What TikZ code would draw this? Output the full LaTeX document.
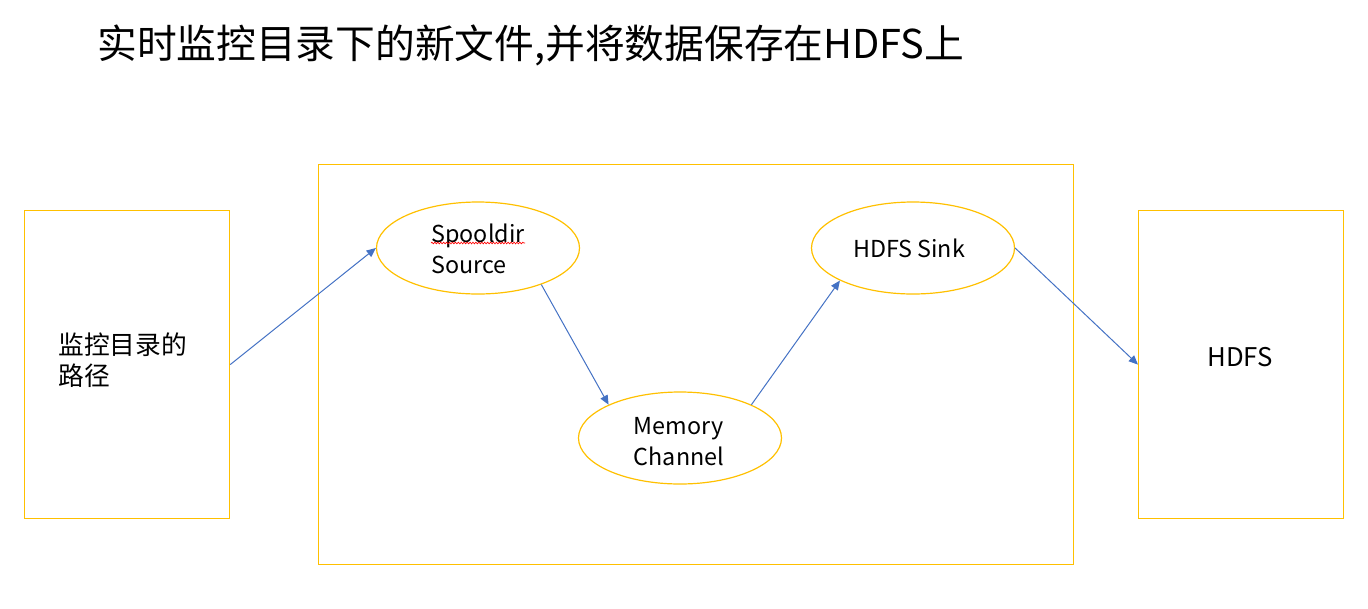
\documentclass[tikz,border=0pt]{standalone}
\usepackage{fontspec}
\setmainfont{Noto Sans CJK SC}
\usetikzlibrary{arrows.meta,shapes.geometric,decorations.pathmorphing}
\definecolor{gold}{HTML}{FFC000}
\definecolor{arrblue}{HTML}{4472C4}
\begin{document}
\begin{tikzpicture}[x=0.75pt,y=-0.75pt,
  box/.style={draw=gold,line width=0.9pt,rectangle,inner sep=0pt,anchor=north west},
  ell/.style={draw=gold,line width=0.9pt,ellipse,minimum width=203*0.75pt,minimum height=92*0.75pt,inner sep=0pt},
  etext/.style={inner sep=0pt,align=left,font=\fontsize{17.5pt}{23.3pt}\selectfont},
  conn/.style={draw=arrblue,line width=0.75pt,-{Triangle[length=7pt,width=6pt]}},
  lbl/.style={font=\fontsize{19.3pt}{23.5pt}\selectfont,inner sep=0pt}]
\useasboundingbox (0,0) rectangle (1368,608);
\node[font=\fontsize{29.8pt}{34pt}\selectfont,anchor=west,inner sep=0pt] (title) at (97,45) {实时监控目录下的新文件,并将数据保存在HDFS上};
\node[box,minimum width=205*0.75pt,minimum height=308*0.75pt] (src) at (24,210) {};
\node[box,minimum width=755*0.75pt,minimum height=400*0.75pt] (agent) at (318,164) {};
\node[box,minimum width=205*0.75pt,minimum height=308*0.75pt] (hdfs) at (1138,210) {};
\node[lbl,anchor=west,align=left] (srctext) at (58,360) {监控目录的\\路径};
\node[lbl] (hdfstext) at (1240,357) {HDFS};
\node[ell] (spool) at (478,248) {};
\node[ell] (mem) at (680,438) {};
\node[ell] (sink) at (913,248) {};
\node[etext] (spooltext) at (478,249) {Spooldir\\Source};
\node[etext] (memtext) at (679,442) {Memory\\Channel};
\node[etext] (sinktext) at (909,248) {HDFS Sink};
\coordinate (sq1) at (431,243);
\coordinate (sq2) at (525,243);
\draw[red,line width=0.5pt,decorate,decoration={snake,amplitude=0.6pt,segment length=2.2pt}] (sq1) -- (sq2);
\draw[conn] (src.east) -- (spool.west);
\draw[conn] (spool.330) -- (mem.155);
\draw[conn] (mem.25) -- (sink.204);
\draw[conn] (sink.east) -- (hdfs.west);
\end{tikzpicture}
\end{document}
